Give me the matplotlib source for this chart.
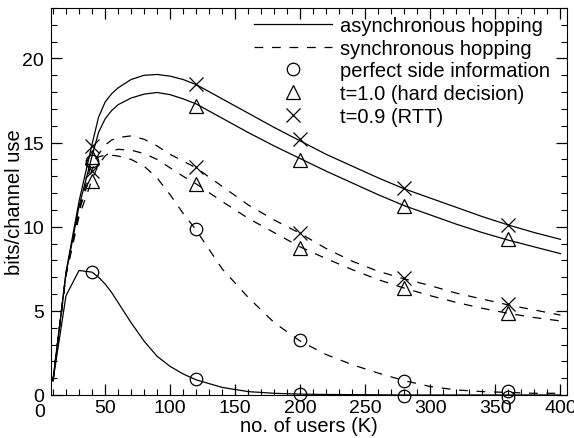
import matplotlib
matplotlib.use('Agg')
import matplotlib.pyplot as plt

plt.rcParams['font.family'] = ['Liberation Sans', 'DejaVu Sans']

# curve sample points (K = number of users)
k_curve = [10, 20, 30, 40, 45, 50, 55, 60, 70, 80, 90, 100, 110, 120, 140, 160, 180,
           200, 220, 240, 260, 280, 300, 320, 340, 360, 380, 400]

async_rtt = [0.85, 7.3, 11.5, 14.9, 16.5, 17.4, 17.9, 18.25, 18.75, 19.0, 19.05, 18.95, 18.75,
             18.45, 17.6, 16.75, 15.9, 15.1, 14.3, 13.6, 12.9, 12.25, 11.7, 11.15, 10.6,
             10.1, 9.65, 9.25]
async_hard = [0.85, 7.2, 11.2, 14.2, 15.6, 16.4, 16.9, 17.25, 17.65, 17.88, 17.98, 17.85, 17.6,
              17.3, 16.45, 15.6, 14.8, 14.05, 13.3, 12.6, 11.9, 11.25, 10.7, 10.15, 9.65,
              9.2, 8.8, 8.4]
async_perf = [0.85, 5.9, 7.4, 7.3, 7.0, 6.6, 6.1, 5.5, 4.3, 3.2, 2.3, 1.7, 1.25,
              0.9, 0.45, 0.2, 0.1, 0.05, 0.03, 0.02, 0.01, 0.0, 0.0, 0.0, 0.0, 0.0, 0.0, 0.0]
sync_rtt = [0.85, 7.2, 10.9, 13.4, 14.3, 14.85, 15.15, 15.3, 15.4, 15.2, 14.8, 14.3, 13.9,
            13.5, 12.4, 11.3, 10.4, 9.6, 8.7, 7.95, 7.35, 6.9, 6.5, 6.05, 5.7, 5.35, 5.05, 4.75]
sync_hard = [0.85, 7.1, 10.6, 12.8, 13.7, 14.2, 14.5, 14.6, 14.55, 14.35, 14.0, 13.5, 13.0,
             12.55, 11.5, 10.5, 9.65, 8.8, 8.1, 7.45, 6.85, 6.35, 5.9, 5.5, 5.15, 4.85, 4.6, 4.4]
sync_perf = [0.85, 7.2, 11.0, 13.9, 14.15, 14.25, 14.25, 14.2, 14.0, 13.6, 12.9, 11.9, 10.8,
             9.8, 7.5, 5.8, 4.3, 3.2, 2.4, 1.8, 1.3, 0.85, 0.5, 0.3, 0.2, 0.15, 0.1, 0.1]

# simulation points
k_sim = [40, 120, 200, 280, 360]
sim_async_rtt = [14.8, 18.5, 15.2, 12.3, 10.1]
sim_async_hard = [14.15, 17.2, 13.95, 11.25, 9.3]
sim_async_perf = [7.3, 0.95, 0.05, -0.05, -0.1]
sim_sync_rtt = [13.3, 13.55, 9.6, 6.95, 5.4]
sim_sync_hard = [12.7, 12.55, 8.75, 6.35, 4.9]
sim_sync_perf = [13.9, 9.85, 3.25, 0.85, 0.25]

fig = plt.figure(figsize=(5.74, 4.39), dpi=100)
ax = fig.add_axes([0.0889, 0.098, 0.8989, 0.8815])

lw = 0.9
for y in (async_rtt, async_hard, async_perf):
    ax.plot(k_curve, y, color='black', lw=lw)
for y in (sync_rtt, sync_hard, sync_perf):
    ax.plot(k_curve, y, color='black', lw=lw, dashes=(7, 7))

mk = dict(linestyle='none', color='black', mfc='none', mew=0.9, clip_on=False)
for y in (sim_async_perf, sim_sync_perf):
    ax.plot(k_sim, y, marker='o', ms=9, **mk)
for y in (sim_async_hard, sim_sync_hard):
    ax.plot(k_sim, y, marker='^', ms=10, **mk)
for y in (sim_async_rtt, sim_sync_rtt):
    ax.plot(k_sim, y, marker='x', ms=10, **mk)

# legend handles
h1, = ax.plot([], [], color='black', lw=lw)
h2, = ax.plot([], [], color='black', lw=lw, dashes=(7, 7))
h3, = ax.plot([], [], marker='o', ms=9, **mk)
h4, = ax.plot([], [], marker='^', ms=10, **mk)
h5, = ax.plot([], [], marker='x', ms=10, **mk)
ax.legend([h1, h2, h3, h4, h5],
          ['asynchronous hopping', 'synchronous hopping', 'perfect side information',
           't=1.0 (hard decision)', 't=0.9 (RTT)'],
          loc='upper right', frameon=False, fontsize=14.5, handlelength=3.9,
          handletextpad=0.4, labelspacing=0.19, borderpad=0,
          bbox_to_anchor=(0.9875, 1.006))

ax.set_xlim(8.5, 405)
ax.set_ylim(0, 23)
ax.set_xticks([50, 100, 150, 200, 250, 300, 350, 400])
ax.set_xticks(range(10, 401, 10), minor=True)
ax.set_yticks([0, 5, 10, 15, 20])
ax.set_yticks(range(0, 24), minor=True)
ax.tick_params(which='both', direction='in', top=True, right=True, labelsize=14)
ax.tick_params(which='major', length=8, width=0.9)
ax.tick_params(which='minor', length=4, width=0.8)
ax.tick_params(axis='x', pad=3)
ax.tick_params(axis='y', pad=5)
# the x-axis "0" sits left of the frame in the original
ax.annotate('0', xy=(0, 0), xycoords=('data', 'axes fraction'), xytext=(0, -6),
            textcoords='offset points', ha='center', va='top', fontsize=14,
            annotation_clip=False)

ax.set_xlabel('no. of users (K)', fontsize=14.5, labelpad=0)
ax.set_ylabel('bits/channel use', fontsize=14.5, labelpad=-1)

fig.savefig('out.png', dpi=100)
